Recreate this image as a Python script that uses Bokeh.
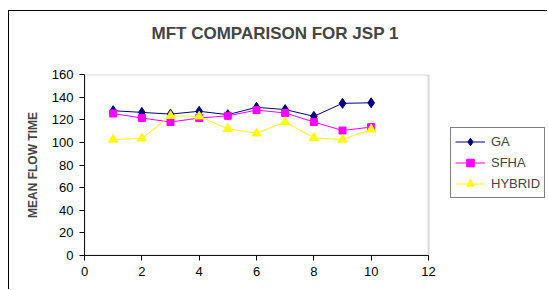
from bokeh.plotting import figure
from bokeh.models import FixedTicker, Legend, LegendItem, Range1d, BoxAnnotation, Title
from bokeh.embed import file_html
from bokeh.resources import INLINE

x = [1, 2, 3, 4, 5, 6, 7, 8, 9, 10]
ga = [128, 126.5, 125, 127.5, 124.5, 131, 129, 123, 134.5, 135]
sfha = [125.5, 121.5, 118, 121.5, 123.5, 128.5, 126, 118, 110.5, 113.5]
hybrid = [102.5, 103.5, 123.5, 123, 112, 108, 118, 104, 102.5, 111.5]
x_ticks = [0, 2, 4, 6, 8, 10, 12]
y_ticks = [0, 20, 40, 60, 80, 100, 120, 140, 160]

FONT = "Liberation Sans"

# plot area: x 0..12 spans 344 px; frame extends to canvas right edge (464 px)
X_MAX, Y_MAX = 12, 160
x_end = X_MAX * 464 / 344

p = figure(width=539, height=279, output_backend="svg", toolbar_location=None,
           x_range=Range1d(0, x_end), y_range=Range1d(0, Y_MAX),
           min_border_left=75, min_border_right=0, min_border_top=63, min_border_bottom=35,
           title="MFT COMPARISON FOR JSP 1")
p.styles = {"margin-top": "10px", "margin-left": "8px",
            "border-left": "1px solid black", "border-top": "1px solid black"}

# empty spacer between plot area and title
p.add_layout(Title(text=" ", text_font_size="1px", standoff=16), "above")

p.title.text_font = FONT
p.title.text_font_size = "17px"
p.title.text_font_style = "bold"
p.title.align = "left"
p.title.offset = 67
p.title.vertical_align = "top"
p.title.standoff = 22

p.background_fill_color = "white"
p.border_fill_color = "white"
p.outline_line_color = None
p.grid.visible = False

# gray plot-area frame (top and right), axes drawn black on left and bottom
p.add_layout(BoxAnnotation(left=0, right=X_MAX, bottom=0, top=Y_MAX,
                           fill_alpha=0, line_color="#808080", line_width=2))

for ax in (p.xaxis[0], p.yaxis[0]):
    ax.axis_line_color = "black"
    ax.major_tick_line_color = "black"
    ax.major_tick_out = 5
    ax.major_tick_in = 0
    ax.minor_tick_line_color = None
    ax.major_label_text_font = FONT
    ax.major_label_text_font_size = "13px"
    ax.major_label_text_color = "black"
    ax.major_label_standoff = 6

p.xaxis.ticker = FixedTicker(ticks=x_ticks)
p.xaxis.bounds = (0, X_MAX)
p.yaxis.ticker = FixedTicker(ticks=y_ticks)
p.yaxis.axis_label = "MEAN FLOW TIME"
p.yaxis.axis_label_text_font = FONT
p.yaxis.axis_label_text_font_size = "12px"
p.yaxis.axis_label_text_font_style = "bold"
p.yaxis.axis_label_standoff = 9

l1 = p.line(x, ga, line_color="#000080", line_width=1)
m1 = p.scatter(x, ga, marker="diamond", size=10, fill_color="#000080", line_color="#000080")
l2 = p.line(x, sfha, line_color="#FF00FF", line_width=1)
m2 = p.scatter(x, sfha, marker="square", size=7, fill_color="#FF00FF", line_color="#FF00FF")
l3 = p.line(x, hybrid, line_color="#FFFF00", line_width=1)
m3 = p.scatter(x, hybrid, marker="triangle", size=9, fill_color="#FFFF00", line_color="#FFFF00")

legend = Legend(items=[
    LegendItem(label="GA", renderers=[l1, m1]),
    LegendItem(label="SFHA", renderers=[l2, m2]),
    LegendItem(label="HYBRID", renderers=[l3, m3]),
], location=(366, 57))
legend.label_text_font = FONT
legend.label_text_font_size = "13px"
legend.glyph_width = 30
legend.glyph_height = 19
legend.label_height = 19
legend.spacing = 2
legend.padding = 4
legend.margin = 0
legend.label_standoff = 6
legend.border_line_color = "black"
legend.border_line_width = 1
legend.background_fill_color = "white"
legend.background_fill_alpha = 1
p.add_layout(legend, "center")

open("out.html", "w").write(file_html(p, INLINE))
